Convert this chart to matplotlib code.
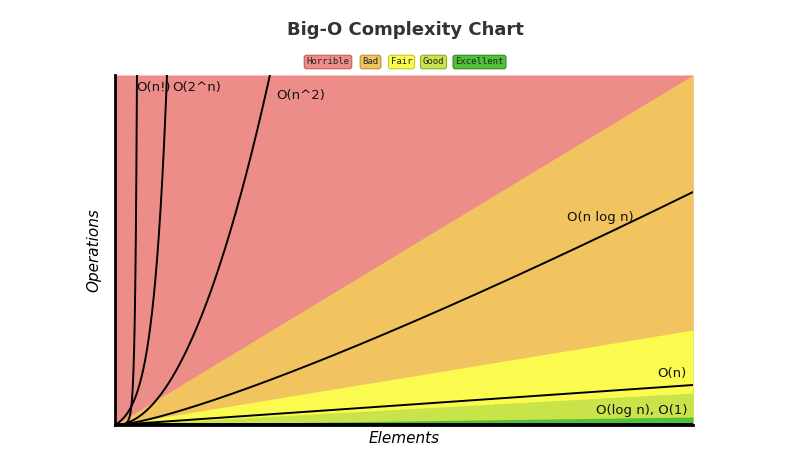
import math
import matplotlib
matplotlib.use("Agg")
import matplotlib.pyplot as plt
import numpy as np

# ── Data ───────────────────────────────────────────────────────────────
X_MAX = 100
Y_MAX = 350

# region upper boundaries at x = X_MAX (linear from origin)
ZONE_NAMES = ["Horrible", "Bad", "Fair", "Good", "Excellent"]
ZONE_COLORS = ["#ED8D8A", "#F2C45F", "#FBFB4F", "#C9E34B", "#52C13A"]
ZONE_EDGES = ["#C85C5A", "#C98A2A", "#C8C82A", "#8FAE2A", "#2E8A1E"]
ZONE_TOP_AT_END = [Y_MAX, 95, 32, 8]   # Horrible top is the frame

NLOGN_END = 233
N_END = 40
N2_COEF = 0.487
EXP_SCALE, EXP_COEF = 1.65, 8.18
FACT_SCALE = 0.6
FACT_COEF = 350 / (math.gamma(3.8 / 0.6 + 1) - 1)

LABELS = [
    ("O(n!)", 3.7, 338, "left"),
    ("O(2^n)", 9.9, 338, "left"),
    ("O(n^2)", 27.9, 329, "left"),
    ("O(n log n)", 84.0, 208, "center"),
    ("O(n)", 98.8, 52, "right"),
    ("O(log n), O(1)", 99.0, 15, "right"),
]

# ── Plot ───────────────────────────────────────────────────────────────
fig = plt.figure(figsize=(8.1, 4.65), dpi=100)
ax = fig.add_axes([115 / 810, 40 / 465, 578 / 810, 350 / 465])

x = np.linspace(0, X_MAX, 600)
ax.fill_between(x, 0, Y_MAX, color=ZONE_COLORS[0], lw=0)
for i, top in enumerate(ZONE_TOP_AT_END):
    ax.fill_between(x, 0, top * x / X_MAX, color=ZONE_COLORS[i + 1], lw=0)

xs = np.linspace(1e-6, X_MAX, 2000)
curves = [
    xs * np.log(xs + 1) / (X_MAX * np.log(X_MAX + 1)) * NLOGN_END,
    N_END * xs / X_MAX,
    N2_COEF * xs ** 2,
    EXP_COEF * (2 ** (xs / EXP_SCALE) - 1),
    FACT_COEF * (np.vectorize(math.gamma)(np.minimum(xs, 8) / FACT_SCALE + 1) - 1),
]
for y in curves:
    ax.plot(xs, y, color="black", lw=1.4, clip_on=True)
ax.plot([0, X_MAX], [0.8, 0.8], color="black", lw=1.4)

for text, lx, ly, ha in LABELS:
    ax.text(lx, ly, text, ha=ha, va="center", fontsize=9.5, color="#111111")

ax.set_xlim(0, X_MAX)
ax.set_ylim(0, Y_MAX)
ax.set_xticks([])
ax.set_yticks([])
for s in ("top", "right"):
    ax.spines[s].set_visible(False)
for s in ("left", "bottom"):
    ax.spines[s].set_linewidth(2)
ax.set_xlabel("Elements", fontsize=11, style="italic", labelpad=4)
ax.set_ylabel("Operations", fontsize=11, style="italic", labelpad=10)

fig.text(0.5, 1 - 30 / 465, "Big-O Complexity Chart", ha="center", va="center",
         fontsize=13, fontweight="bold", color="#333333")

# legend as a row of tags
widths = [50, 27, 27, 29, 55]
gap = 4
total = sum(widths) + gap * (len(widths) - 1)
cx = 405 - total / 2
for name, w, fc, ec in zip(ZONE_NAMES, widths, ZONE_COLORS, ZONE_EDGES):
    fig.text((cx + w / 2) / 810, 1 - 62 / 465, name, ha="center", va="center",
             family="DejaVu Sans Mono", fontsize=6.5, color="#222222",
             bbox=dict(boxstyle="round,pad=0.25", facecolor=fc, edgecolor=ec, lw=0.8))
    cx += w + gap

fig.savefig("out.png", dpi=100)
